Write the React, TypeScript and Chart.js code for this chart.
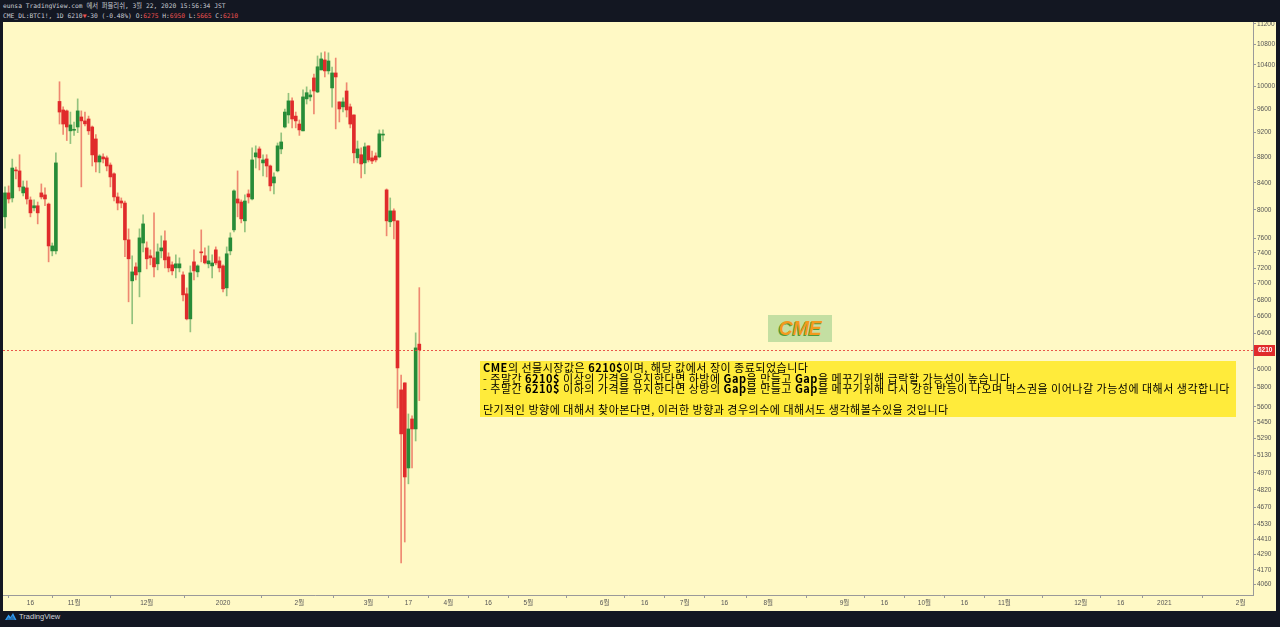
import { useEffect, useRef } from "react"
import { Chart, registerables } from "chart.js"

Chart.register(...registerables)

// CME_DL:BTC1! daily candles, 2019-10-07 .. 2020-03-20
const opens = [
  7900, 8250, 8175, 8600, 8585, 8250, 8325, 8145, 8030, 8060,
  8250, 8220, 8085, 7428, 7428, 9735, 9586, 9570, 9230, 9240,
  9295, 9465, 9398, 9431, 9295, 9096, 8725, 8805, 8790, 8677,
  8540, 8190, 8130, 8100, 7578, 7036, 7216, 7151, 7535, 7468,
  7362, 7335, 7256, 7428, 7565, 7348, 7243, 7203, 7203, 7112,
  6873, 6568, 7282, 7151, 7415, 7362, 7256, 7229, 7442, 7295,
  7229, 6947, 7428, 7716, 8160, 8115, 7843, 8235, 8160, 8805,
  8933, 8710, 8773, 8662, 8400, 8585, 8933, 9295, 9500, 9745,
  9480, 9345, 9230, 9780, 9815, 10158, 9903, 10306, 10494, 10288,
  9976, 10250, 9727, 9640, 9921, 9640, 9500, 8790, 8840, 8710,
  8983, 8790, 8820, 8805, 9160,
  8295, 7829, 7986, 7843, 5776, 5850, 5015, 5480, 5382, 6275,
]
const highs = [
  8340, 8355, 8770, 8645, 8840, 8430, 8430, 8190, 8146, 8115,
  8385, 8325, 8100, 7535, 8870, 10088, 9640, 9586, 9550, 9380,
  9780, 9570, 9550, 9480, 9312, 9170, 8840, 8855, 8820, 8710,
  8555, 8250, 8175, 8130, 7730, 7362, 7268, 7730, 7928, 7550,
  7442, 7957, 7523, 7633, 7702, 7402, 7282, 7375, 7335, 7151,
  6947, 7229, 7442, 7243, 7716, 7468, 7495, 7375, 7482, 7348,
  7243, 7482, 7675, 8295, 8585, 8146, 8220, 8295, 8950, 8983,
  8967, 8840, 8840, 8677, 8555, 9030, 9196, 9603, 9880, 9797,
  9550, 9414, 9940, 9995, 9940, 10230, 10570, 10630, 10650, 10630,
  10360, 10530, 9727, 9797, 10070, 9690, 9500, 9063, 8950, 9030,
  8983, 8900, 8870, 9246, 9246,
  8310, 8175, 8014, 7843, 5933, 5850, 5530, 5510, 6404, 6950,
]
const lows = [
  7740, 8100, 8115, 8460, 8280, 8205, 8085, 7900, 7986, 7800,
  8160, 8060, 7282, 7362, 7389, 9345, 9170, 9070, 9020, 9155,
  9200, 8340, 9312, 9170, 8662, 8570, 8555, 8710, 8585, 8340,
  8130, 8000, 8030, 7350, 6774, 6510, 7049, 6835, 7415, 7190,
  7243, 7087, 7177, 7335, 7203, 7151, 7112, 7074, 7151, 6786,
  6556, 6415, 7049, 7087, 7282, 7256, 7203, 7074, 7243, 7151,
  6897, 6847, 7375, 7689, 7900, 7814, 7689, 8100, 8146, 8630,
  8600, 8508, 8492, 8280, 8235, 8570, 8855, 9280, 9360, 9280,
  9280, 9155, 9230, 9690, 9745, 9516, 9890, 10306, 10176, 10230,
  9634, 9263, 9380, 9550, 9465, 9280, 8710, 8710, 8477, 8540,
  8725, 8700, 8725, 8790, 9063,
  7633, 7760, 7592, 5590, 4223, 4386, 4873, 5015, 5266, 5665,
]
const closes = [
  8250, 8160, 8630, 8585, 8340, 8340, 8160, 7957, 8060, 7957,
  8190, 8160, 7495, 7495, 8710, 9550, 9345, 9295, 9330, 9255,
  9570, 9398, 9348, 9230, 8837, 8725, 8820, 8773, 8662, 8492,
  8190, 8100, 8100, 7578, 7322, 7151, 7112, 7605, 7800, 7322,
  7335, 7216, 7415, 7468, 7308, 7203, 7164, 7256, 7256, 6860,
  6568, 7138, 7164, 7229, 7402, 7268, 7295, 7268, 7268, 7203,
  6935, 7389, 7605, 8280, 8100, 7871, 8130, 8190, 8757, 8870,
  8790, 8757, 8662, 8355, 8492, 8983, 9047, 9550, 9745, 9431,
  9398, 9246, 9815, 9890, 9850, 9921, 10365, 10514, 10288, 10475,
  10250, 10176, 9603, 9727, 9586, 9345, 8870, 8933, 8694, 8967,
  8757, 8740, 8757, 9180, 9170,
  7843, 7986, 7843, 6010, 5334, 4934, 5382, 5382, 6232, 6210,
]

// bars are CME trading days; the future part of the axis keeps counting weekdays
const firstDate = "2019-10-07"
const holidays = ["2019-11-28", "2019-12-25", "2020-01-01", "2020-01-20", "2020-02-17"]

const xTickDates = [
  "2019-10-16", "2019-11-01", "2019-12-02", "2020-01-02", "2020-02-03", "2020-03-02",
  "2020-03-17", "2020-04-01", "2020-04-16", "2020-05-01", "2020-06-01", "2020-06-16",
  "2020-07-01", "2020-07-16", "2020-08-03", "2020-09-01", "2020-09-16", "2020-10-01",
  "2020-10-16", "2020-11-02", "2020-12-01", "2020-12-16", "2021-01-01", "2021-02-01",
]
const xTickLabels = [
  "16", "11월", "12월", "2020", "2월", "3월", "17", "4월", "16", "5월", "6월", "16",
  "7월", "16", "8월", "9월", "16", "10월", "16", "11월", "12월", "16", "2021", "2월",
]
const yTicks = [
  11200, 10800, 10400, 10000, 9600, 9200, 8800, 8400, 8000, 7600, 7400, 7200, 7000,
  6800, 6600, 6400, 6000, 5800, 5600, 5450, 5290, 5130, 4970, 4820, 4670, 4530,
  4410, 4290, 4170, 4060,
]
const lastPrice = 6210

const UP = "#278c38"
const DOWN = "#e02b2b"
const UP_WICK = "rgba(39,140,56,0.5)"
const DOWN_WICK = "rgba(224,43,43,0.55)"
const AXIS_FONT = "'Liberation Sans', 'Noto Sans CJK KR', sans-serif"

function buildDates(count: number) {
  const out: string[] = []
  const d = new Date(firstDate + "T00:00:00Z")
  while (out.length < count) {
    const day = d.getUTCDay()
    const s = d.toISOString().slice(0, 10)
    if (day !== 0 && day !== 6 && !holidays.includes(s)) out.push(s)
    d.setUTCDate(d.getUTCDate() + 1)
  }
  return out
}

const dates = buildDates(360)

const priceLine = {
  id: "priceLine",
  afterDraw(chart: any) {
    const { ctx, chartArea, scales } = chart
    const y = Math.round(scales.y.getPixelForValue(lastPrice)) + 0.5
    ctx.save()
    ctx.strokeStyle = "rgba(229,57,53,0.85)"
    ctx.lineWidth = 1
    ctx.setLineDash([2, 2])
    ctx.beginPath()
    ctx.moveTo(chartArea.left, y)
    ctx.lineTo(chartArea.right, y)
    ctx.stroke()
    ctx.setLineDash([])
    ctx.fillStyle = DOWN
    ctx.fillRect(chartArea.right + 1, y - 5.5, 21, 11)
    ctx.fillStyle = "#ffffff"
    ctx.font = "bold 6.5px " + AXIS_FONT
    ctx.textAlign = "left"
    ctx.textBaseline = "middle"
    ctx.fillText(String(lastPrice), chartArea.right + 5, y)
    ctx.restore()
  },
}

function CandleChart() {
  const chartRef = useRef<HTMLCanvasElement>(null)
  const chartInstance = useRef<Chart | null>(null)

  useEffect(() => {
    if (!chartRef.current) return
    if (chartInstance.current) chartInstance.current.destroy()
    const ctx = chartRef.current.getContext("2d")
    if (!ctx) return

    const isUp = closes.map((c, i) => c >= opens[i])
    const wickData = highs.map((h, i) => ({ x: i, y: [lows[i], h] }))
    const bodyData = opens.map((o, i) => ({ x: i, y: [o, closes[i]] }))
    const tickIdx = xTickDates.map((d) => dates.indexOf(d))

    chartInstance.current = new Chart(ctx, {
      type: "bar",
      data: {
        datasets: [
          {
            label: "wick",
            data: wickData as any,
            backgroundColor: isUp.map((u) => (u ? UP_WICK : DOWN_WICK)),
            barThickness: 1,
            grouped: false,
            order: 2,
            borderWidth: 0,
          },
          {
            label: "body",
            data: bodyData as any,
            backgroundColor: isUp.map((u) => (u ? UP : DOWN)),
            barThickness: 3,
            minBarLength: 1,
            grouped: false,
            order: 1,
            borderWidth: 0,
          },
        ],
      },
      options: {
        responsive: false,
        animation: false,
        layout: { padding: 0 },
        plugins: {
          legend: { display: false },
          tooltip: { enabled: false },
          title: { display: false },
        },
        scales: {
          x: {
            type: "linear",
            min: -0.55,
            max: 343.4,
            offset: false,
            afterBuildTicks: (scale: any) => {
              scale.ticks = tickIdx.map((v) => ({ value: v }))
            },
            afterFit: (scale: any) => {
              scale.height = 16
              scale.paddingLeft = 0
              scale.paddingRight = 0
            },
            grid: { drawOnChartArea: false, tickLength: 3, color: "#9a9a9a" },
            border: { color: "#9a9a9a" },
            ticks: {
              autoSkip: false,
              maxRotation: 0,
              padding: 1,
              color: "#555555",
              font: { size: 6.5, family: AXIS_FONT },
              callback: (_v: any, i: number) => xTickLabels[i],
            },
          },
          y: {
            type: "logarithmic",
            position: "right",
            min: 3985,
            max: 11240,
            afterBuildTicks: (scale: any) => {
              scale.ticks = yTicks.map((v) => ({ value: v }))
            },
            afterFit: (scale: any) => {
              scale.width = 23
              scale.paddingTop = 0
              scale.paddingBottom = 0
            },
            grid: { drawOnChartArea: false, tickLength: 3, color: "#9a9a9a" },
            border: { color: "#9a9a9a" },
            ticks: {
              autoSkip: false,
              padding: 1,
              color: "#555555",
              font: { size: 6.5, family: AXIS_FONT },
              callback: (v: any) => String(v),
            },
          },
        },
      },
      plugins: [priceLine],
    })

    return () => {
      if (chartInstance.current) {
        chartInstance.current.destroy()
        chartInstance.current = null
      }
    }
  }, [])

  return <canvas ref={chartRef} width={1273} height={589} style={{ display: "block" }} />
}

const red = { color: "#ef5350" }

export default function App() {
  return (
    <div style={{ position: "fixed", inset: 0, background: "#131722", overflow: "hidden" }}>
      <div
        style={{
          position: "absolute",
          left: 3,
          top: 1,
          fontFamily: "'DejaVu Sans Mono', 'Noto Sans CJK KR', monospace",
          fontSize: 6.3,
          lineHeight: "10px",
          color: "#c9ccd4",
          whiteSpace: "pre",
        }}
      >
        <div>eunsa TradingView.com 에서 퍼블리쉬, 3월 22, 2020 15:56:34 JST</div>
        <div>
          CME_DL:BTC1!, 1D 6210<span style={red}>▼</span>-30 (-0.48%) O:<span style={red}>6275</span> H:<span style={red}>6950</span> L:<span style={red}>5665</span> C:<span style={red}>6210</span>
        </div>
      </div>

      <div style={{ position: "absolute", left: 3, top: 22, width: 1273, height: 589, background: "#fff9c5" }}>
        <CandleChart />
      </div>

      <div
        style={{
          position: "absolute",
          left: 768,
          top: 315,
          width: 64,
          height: 27,
          background: "#c4dfa2",
          display: "flex",
          alignItems: "center",
          justifyContent: "center",
          fontFamily: "'Liberation Sans', Arial, sans-serif",
          fontStyle: "italic",
          fontWeight: 700,
          fontSize: 20,
          color: "#f39a1e",
          textShadow: "-1px 1px 0 #4f9a3c",
          letterSpacing: -0.5,
        }}
      >
        CME
      </div>

      <div
        style={{
          position: "absolute",
          left: 480,
          top: 361,
          width: 756,
          height: 56,
          boxSizing: "border-box",
          padding: "1px 0 0 3px",
          background: "#ffeb3b",
          fontFamily: "'Noto Sans CJK KR', sans-serif",
          fontSize: 11,
          lineHeight: "10.5px",
          letterSpacing: 0.5,
          color: "#000000",
          whiteSpace: "pre",
        }}
      >
        <div>
          <b>CME</b>의 선물시장값은 <b>6210$</b>이며, 해당 값에서 장이 종료되었습니다
        </div>
        <div>
          - 주말간 <b>6210$</b> 이상의 가격을 유지한다면 하방에 <b>Gap</b>을 만들고 <b>Gap</b>을 메꾸기위해 급락할 가능성이 높습니다
        </div>
        <div>
          - 주말간 <b>6210$</b> 이하의 가격을 유지한다면 상방의 <b>Gap</b>을 만들고 <b>Gap</b>을 메꾸기위해 다시 강한 반등이 나오며 박스권을 이어나갈 가능성에 대해서 생각합니다
        </div>
        <div> </div>
        <div>단기적인 방향에 대해서 찾아본다면, 이러한 방향과 경우의수에 대해서도 생각해볼수있을 것입니다</div>
      </div>

      <div
        style={{
          position: "absolute",
          left: 4,
          top: 612,
          display: "flex",
          alignItems: "center",
          gap: 2,
          fontFamily: "'Liberation Sans', Arial, sans-serif",
          fontSize: 7.5,
          color: "#d1d4dc",
        }}
      >
        <svg width="13" height="9" viewBox="0 0 13 9">
          <path d="M1 8 L4.5 2.5 L6.5 5 L9 1 L12.5 8 Z" fill="#2f9cf4" />
          <path d="M2.5 8 L4.5 5 L6 7 L8.5 3.5 L11 8 Z" fill="#131722" opacity="0.35" />
        </svg>
        <span>TradingView</span>
      </div>
    </div>
  )
}
